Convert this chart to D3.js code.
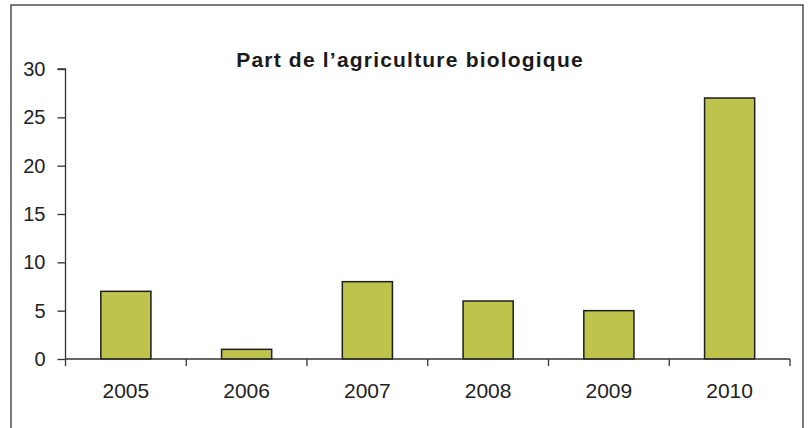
<!DOCTYPE html>
<html><head><meta charset="utf-8">
<script src="https://cdn.jsdelivr.net/npm/d3@7"></script>
<style>
html,body{margin:0;padding:0;background:#fff;}
svg text{font-family:"Liberation Sans",Arial,sans-serif;}
</style></head>
<body>
<script>
const categories = ["2005","2006","2007","2008","2009","2010"];
const values = [7, 1, 8, 6, 5, 27];
const yTicks = [0, 5, 10, 15, 20, 25, 30];
const title = "Part de l\u2019agriculture biologique";

const W = 811, H = 428;
const svg = d3.select("body").append("svg").attr("width", W).attr("height", H);

// outer frame
svg.append("rect").attr("x", 11).attr("y", 5).attr("width", 792).attr("height", 440)
  .attr("fill", "#fff").attr("stroke", "#333").attr("stroke-width", 1.3);

const x = d3.scaleBand().domain(categories).range([65.5, 790]).paddingInner(0.585).paddingOuter(0.2925);
const y = d3.scaleLinear().domain([0, 30]).range([359, 69]);

const g = svg.append("g");

// bars
g.selectAll("rect.bar").data(values).join("rect").attr("class", "bar")
  .attr("x", (d, i) => x(categories[i]))
  .attr("y", d => y(d))
  .attr("width", x.bandwidth())
  .attr("height", d => y(0) - y(d))
  .attr("fill", "#bec44b").attr("stroke", "#1e1e1e").attr("stroke-width", 1.5);

// y axis
const yAxis = d3.axisLeft(y).tickValues(yTicks).tickSize(8).tickPadding(12).tickFormat(d3.format("d"));
const ya = svg.append("g").attr("transform", "translate(65.5,0)").call(yAxis);
ya.select(".domain").attr("stroke", "#333").attr("stroke-width", 1.3).attr("d", `M-8,${y(30)}H0V${y(0)}`);
ya.selectAll(".tick line").attr("stroke", "#333").attr("stroke-width", 1.3);
ya.selectAll(".tick text").attr("font-size", 20).attr("fill", "#222")
  .attr("font-family", "Liberation Sans, Arial, sans-serif");

// x axis with ticks at band boundaries
const xa = svg.append("g").attr("transform", `translate(0,${y(0)})`);
xa.append("line").attr("x1", 65.5).attr("x2", 790).attr("y1", 0).attr("y2", 0)
  .attr("stroke", "#333").attr("stroke-width", 1.3);
const step = x.step();
const bounds = categories.map(c => x(c) - x.paddingOuter() * step).concat([x(categories[5]) + x.bandwidth() + x.paddingOuter() * step]);
xa.selectAll("line.tk").data(bounds).join("line").attr("class", "tk")
  .attr("x1", d => d).attr("x2", d => d).attr("y1", 0).attr("y2", 7)
  .attr("stroke", "#333").attr("stroke-width", 1.3);
xa.selectAll("text").data(categories).join("text")
  .attr("x", d => x(d) + x.bandwidth() / 2).attr("y", 39)
  .attr("text-anchor", "middle").attr("font-size", 21).attr("fill", "#222")
  .text(d => d);

// title
svg.append("text").attr("x", 410).attr("y", 67).attr("text-anchor", "middle")
  .attr("font-size", 21).attr("font-weight", "bold").attr("fill", "#1a1a1a")
  .attr("letter-spacing", 1.2)
  .text(title);
</script>
</body></html>
